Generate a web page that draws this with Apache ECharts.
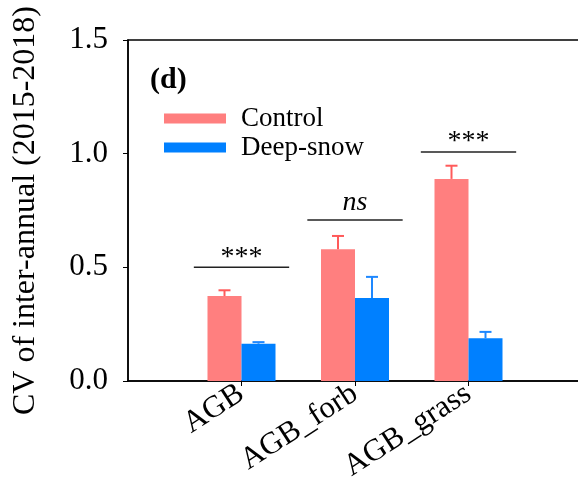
<!DOCTYPE html>
<html>
<head>
<meta charset="utf-8">
<script src="https://cdn.jsdelivr.net/npm/echarts@6/dist/echarts.min.js"></script>
<style>
html,body{margin:0;padding:0;background:#fff;}
#chart{width:578px;height:496px;}
</style>
</head>
<body>
<div id="chart"></div>
<script>
// categories (empty ends keep the left/right margin of the plot)
var categories=['','AGB','AGB_forb','AGB_grass',''];
var control=['-',0.374,0.579,0.889,'-'];
var controlTop=['-',0.399,0.638,0.947,'-'];
var deepSnow=['-',0.164,0.365,0.188,'-'];
var deepSnowTop=['-',0.171,0.458,0.216,'-'];
// significance brackets
var sigIndex=[1,2,3];
var sigLevel=[0.5,0.708,1.007];
var sigText=['***','ns','***'];

var font='Liberation Serif';
var colControl='#FF7F7F',colControlErr='#FF5A5A';
var colSnow='#0080FF',colSnowErr='#1E88FF';

function errData(vals,tops){
    var out=[];
    for(var i=0;i<vals.length;i++){
        if(vals[i]!=='-'){out.push([i,vals[i],tops[i]]);}
    };
    return out;
}
function errRender(offset,color){
    return function(params,api){
        var base=api.coord([api.value(0),api.value(1)]);
        var top=api.coord([api.value(0),api.value(2)]);
        var x=base[0]+offset;
        return {
            type:'group',
            children:[
                {type:'line',shape:{x1:x,y1:base[1],x2:x,y2:top[1]},style:{stroke:color,lineWidth:2}},
                {type:'line',shape:{x1:x-6,y1:top[1],x2:x+6,y2:top[1]},style:{stroke:color,lineWidth:2}}
            ]
        };
    };
}

var chart=echarts.init(document.getElementById('chart'));
chart.setOption({
    animation:false,
    title:{
        text:'(d)',left:145,top:60,
        textStyle:{fontFamily:font,fontSize:30,fontWeight:'bold',color:'#000'}
    },
    legend:{
        data:['Control','Deep-snow'],
        orient:'vertical',left:159,top:100,
        itemWidth:62,itemHeight:10,itemGap:2,
        icon:'rect',
        textStyle:{fontFamily:font,fontSize:27,color:'#000',lineHeight:27,padding:[0,0,0,10]}
    },
    grid:{
        left:128,width:454,top:40,bottom:115,
        outerBoundsMode:'none',containLabel:false,
        show:true,borderColor:'#000',borderWidth:1.5,backgroundColor:'transparent'
    },
    xAxis:{
        type:'category',data:categories,boundaryGap:false,
        axisLine:{lineStyle:{color:'#000',width:1.5}},
        axisTick:{
            length:5,lineStyle:{color:'#000',width:1},
            interval:function(i,v){return v!=='';}
        },
        axisLabel:{
            interval:0,rotate:33,margin:10,
            fontFamily:font,fontSize:31,color:'#000'
        }
    },
    yAxis:{
        type:'value',min:0,max:1.5,interval:0.5,
        name:'CV of inter-annual (2015-2018)',
        nameLocation:'middle',nameGap:86,
        nameTextStyle:{fontFamily:font,fontSize:32,color:'#000'},
        axisLine:{show:true,lineStyle:{color:'#000',width:1.5}},
        axisTick:{show:true,length:5,lineStyle:{color:'#000',width:1}},
        splitLine:{show:false},
        axisLabel:{
            margin:20,fontFamily:font,fontSize:31,color:'#000',
            formatter:function(v){return v.toFixed(1);}
        }
    },
    series:[
        {
            name:'Control',type:'bar',data:control,barWidth:34,barGap:'0%',
            itemStyle:{color:colControl}
        },
        {
            name:'Deep-snow',type:'bar',data:deepSnow,barWidth:34,barGap:'0%',
            itemStyle:{color:colSnow}
        },
        {
            type:'custom',z:5,data:errData(control,controlTop),
            renderItem:errRender(-17,colControlErr)
        },
        {
            type:'custom',z:5,data:errData(deepSnow,deepSnowTop),
            renderItem:errRender(17,colSnowErr)
        },
        {
            type:'custom',z:6,
            data:sigIndex.map(function(v,i){return [v,sigLevel[i],i];}),
            renderItem:function(params,api){
                var p=api.coord([api.value(0),api.value(1)]);
                var half=api.size([1,0])[0]*0.42;
                var t=sigText[api.value(2)];
                var isNs=t==='ns';
                return {
                    type:'group',
                    children:[
                        {type:'line',shape:{x1:p[0]-half,y1:p[1],x2:p[0]+half,y2:p[1]},style:{stroke:'#222',lineWidth:1.5}},
                        {type:'text',x:p[0],y:isNs?p[1]-3:p[1]+4,style:{
                            text:t,align:'center',verticalAlign:'bottom',
                            font:(isNs?'italic ':'')+'28px "'+font+'"',fill:'#000'
                        }}
                    ]
                };
            }
        }
    ]
});
</script>
</body>
</html>
